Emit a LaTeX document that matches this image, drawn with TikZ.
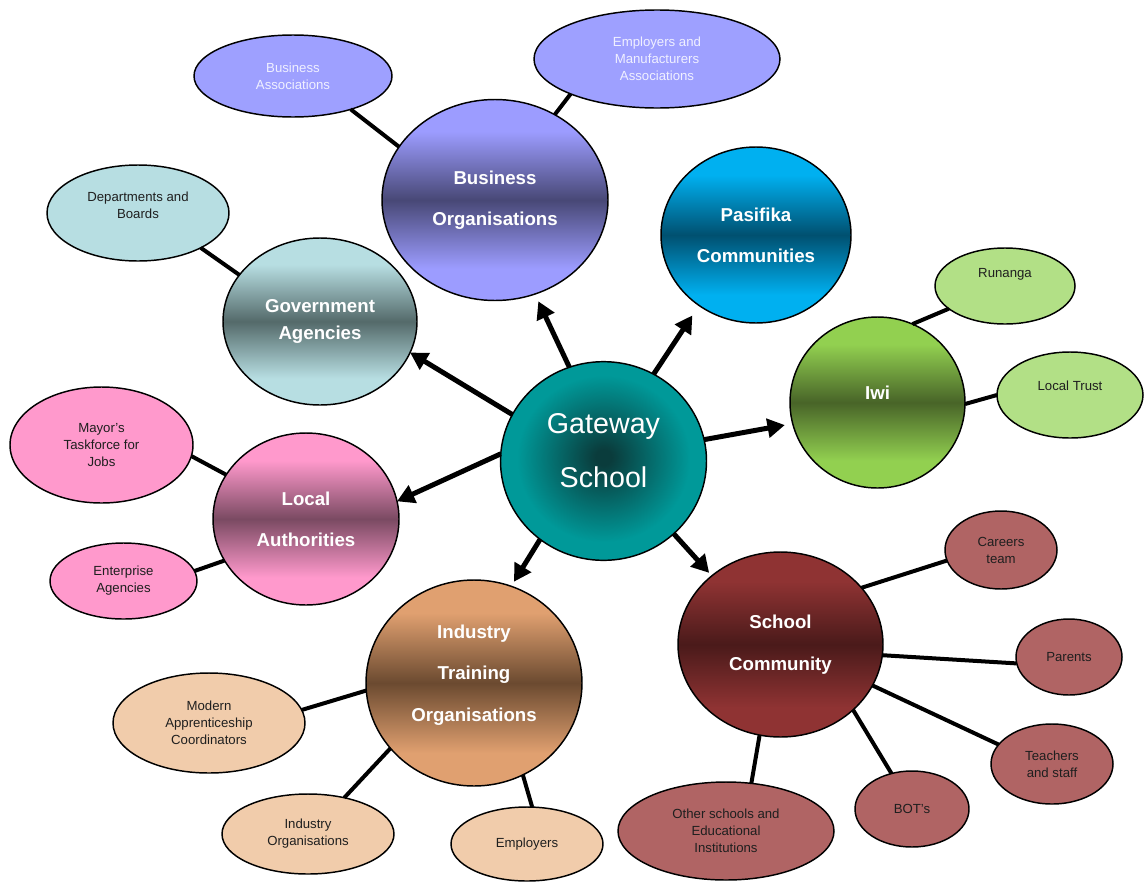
\documentclass[tikz,border=0pt]{standalone}
\usepackage{fontspec}
\setmainfont{Liberation Sans}
\usetikzlibrary{shapes.geometric,arrows.meta}
% colours
\definecolor{gwT}{RGB}{0,153,153}
\definecolor{gwD}{RGB}{10,60,60}
\definecolor{boL}{RGB}{156,156,255}
\definecolor{boD}{RGB}{72,72,118}
\definecolor{pcL}{RGB}{0,176,240}
\definecolor{pcD}{RGB}{0,80,112}
\definecolor{gaL}{RGB}{183,222,226}
\definecolor{gaD}{RGB}{84,106,106}
\definecolor{iwL}{RGB}{146,208,80}
\definecolor{iwD}{RGB}{72,100,40}
\definecolor{laL}{RGB}{255,153,204}
\definecolor{laD}{RGB}{122,74,98}
\definecolor{itL}{RGB}{224,160,112}
\definecolor{itD}{RGB}{107,74,48}
\definecolor{scL}{RGB}{143,51,51}
\definecolor{scD}{RGB}{74,26,26}
\definecolor{satBO}{RGB}{158,160,255}
\definecolor{satBOtext}{RGB}{240,240,255}
\definecolor{satGA}{RGB}{183,222,226}
\definecolor{satIW}{RGB}{178,224,134}
\definecolor{satLA}{RGB}{255,153,204}
\definecolor{satIT}{RGB}{241,204,171}
\definecolor{satSC}{RGB}{176,100,100}
\newcommand\makeshadeX[3]{\pgfdeclareverticalshading{#1}{100bp}{color(0bp)=(#2); color(33bp)=(#2); color(50bp)=(#3); color(67bp)=(#2); color(100bp)=(#2)}}
\makeshadeX{boS}{boL}{boD}
\makeshadeX{pcS}{pcL}{pcD}
\makeshadeX{gaS}{gaL}{gaD}
\makeshadeX{iwS}{iwL}{iwD}
\makeshadeX{laS}{laL}{laD}
\makeshadeX{itS}{itL}{itD}
\makeshadeX{scS}{scL}{scD}
\pgfdeclareradialshading{gwS}{\pgfpoint{0bp}{1bp}}{color(0bp)=(gwD); color(2bp)=(gwD); color(21bp)=(gwT); color(50bp)=(gwT)}
\tikzset{
  base/.style={ellipse, draw=black, line width=1.1pt, inner sep=0pt, outer sep=0pt, align=center},
  big/.style={base, text=white, font=\fontsize{14}{31}\selectfont\bfseries},
  small/.style={base, text=black!88, font=\fontsize{9.9}{12.75}\selectfont},
  arr/.style={line width=3.75pt, -{Triangle[length=13pt,width=14pt]}},
  spoke/.style={line width=3pt},
}
\begin{document}
\begin{tikzpicture}[x=0.75pt,y=-0.75pt]
\useasboundingbox (0,0) rectangle (1145,882);
% central
\node[base, shading=gwS, text=white, font=\fontsize{21.5}{40.5}\selectfont,
  minimum width=154.5pt, minimum height=149pt, text depth=16.5pt] (gw) at (603.5,461) {Gateway\\School};
% main circles
\node[big, shading=boS, minimum width=169.5pt, minimum height=150.75pt] (bo) at (495,200) {Business\\Organisations};
\node[big, shading=pcS, minimum width=142.5pt, minimum height=132pt] (pc) at (756,235) {Pasifika\\Communities};
\node[big, shading=gaS, minimum width=145.5pt, minimum height=125.25pt, font=\fontsize{14}{20}\selectfont\bfseries] (ga) at (320,321.5) {Government\\Agencies};
\node[big, shading=iwS, minimum width=131.25pt, minimum height=128.25pt, text depth=15pt] (iwi) at (877.5,402.5) {Iwi};
\node[big, shading=laS, minimum width=139.5pt, minimum height=129pt] (la) at (306,519) {Local\\Authorities};
\node[big, shading=itS, minimum width=162pt, minimum height=154.5pt, text depth=15pt] (ito) at (474,683) {Industry\\Training\\Organisations};
\node[big, shading=scS, minimum width=153.75pt, minimum height=138.75pt] (sc) at (780.5,644.5) {School\\Community};
% satellites
\node[small, fill=satBO, text=satBOtext, minimum width=148.5pt, minimum height=61.5pt] (ba) at (293,76) {Business\\Associations};
\node[small, fill=satBO, text=satBOtext, minimum width=184.5pt, minimum height=73.5pt] (ema) at (657,59) {Employers and\\Manufacturers\\Associations};
\node[small, fill=satGA, minimum width=136.5pt, minimum height=72pt, text depth=11pt] (db) at (138,213) {Departments and\\Boards};
\node[small, fill=satIW, minimum width=105pt, minimum height=57pt, text depth=19pt] (run) at (1005,286) {Runanga};
\node[small, fill=satIW, minimum width=109.5pt, minimum height=64.5pt, text depth=13.5pt] (lt) at (1070,395) {Local Trust};
\node[small, fill=satLA, minimum width=137.25pt, minimum height=87pt] (mtj) at (101.5,445) {Mayor's\\Taskforce for\\Jobs};
\node[small, fill=satLA, minimum width=110.25pt, minimum height=57pt] (ea) at (123.5,581) {Enterprise\\Agencies};
\node[small, fill=satIT, minimum width=144pt, minimum height=75pt] (mac) at (209,723) {Modern\\Apprenticeship\\Coordinators};
\node[small, fill=satIT, minimum width=129pt, minimum height=60pt] (io) at (308,834) {Industry\\Organisations};
\node[small, fill=satIT, minimum width=114pt, minimum height=55.5pt] (emp) at (527,844) {Employers};
\node[small, fill=satSC, minimum width=84pt, minimum height=58.5pt] (ct) at (1001,550) {Careers\\team};
\node[small, fill=satSC, minimum width=79.5pt, minimum height=57pt] (par) at (1069,657) {Parents};
\node[small, fill=satSC, minimum width=91.5pt, minimum height=60pt] (ts) at (1052,764) {Teachers\\and staff};
\node[small, fill=satSC, minimum width=85.5pt, minimum height=57pt] (bot) at (912,809) {BOT's};
\node[small, fill=satSC, minimum width=162pt, minimum height=73.5pt] (os) at (726,831) {Other schools and\\Educational\\Institutions};
% arrows from the centre
\draw[arr, shorten >=6pt] (gw.110) -- (bo.-67);
\draw[arr, shorten >=9pt] (gw.60) -- (pc.-129.5);
\draw[arr] (gw.153) -- (ga.-19.5);
\draw[arr, shorten >=6pt] (gw.12.4) -- (iwi.194);
\draw[arr] (gw.176.7) -- (la.11.4);
\draw[arr, shorten >=4pt] (gw.-129) -- (ito.69.7);
\draw[arr, shorten >=3pt] (gw.-46) -- (sc.135);
% spokes
\draw[spoke] (ba.-30) -- (bo.151);
\draw[spoke] (ema.202) -- (bo.55);
\draw[spoke] (db.-29) -- (ga.150);
\draw[spoke] (run.202) -- (iwi.66);
\draw[spoke] (lt.180.8) -- (iwi.-1);
\draw[spoke] (mtj.-7) -- (la.151);
\draw[spoke] (ea.8) -- (la.207);
\draw[spoke] (mac.8) -- (ito.184);
\draw[spoke] (io.45) -- (ito.218);
\draw[spoke] (emp.82) -- (ito.-62);
\draw[spoke] (sc.35) -- (ct.191);
\draw[spoke] (sc.-6) -- (par.187);
\draw[spoke] (sc.-24) -- (ts.160);
\draw[spoke] (sc.-42) -- (bot.120);
\draw[spoke] (sc.-103) -- (os.62);
\end{tikzpicture}
\end{document}
